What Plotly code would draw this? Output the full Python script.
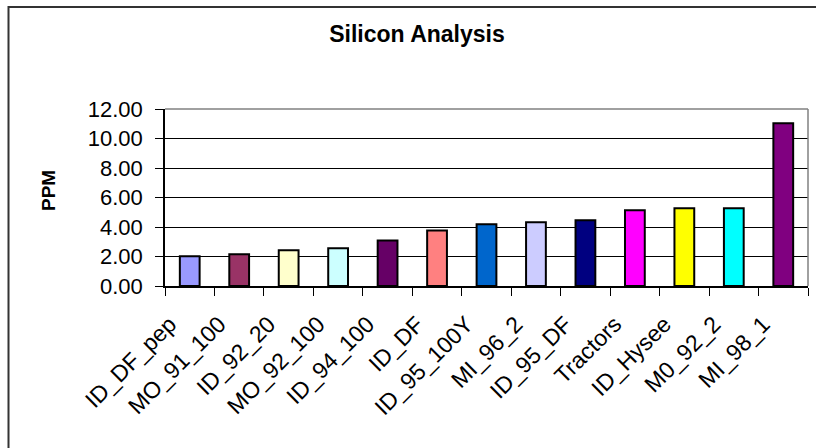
import plotly.graph_objects as go

categories = ["ID_DF_pep", "MO_91_100", "ID_92_20", "MO_92_100", "ID_94_100", "ID_DF",
              "ID_95_100Y", "MI_96_2", "ID_95_DF", "Tractors", "ID_Hysee", "M0_92_2", "MI_98_1"]
ppm_values = [2.02, 2.16, 2.42, 2.56, 3.08, 3.77, 4.18, 4.32, 4.45, 5.13, 5.27, 5.27, 11.04]
bar_colors = ["#9999FF", "#993366", "#FFFFCC", "#CCFFFF", "#660066", "#FF8080",
              "#0066CC", "#CCCCFF", "#000080", "#FF00FF", "#FFFF00", "#00FFFF", "#800080"]
y_ticks = [0, 2, 4, 6, 8, 10, 12]

FONT = "Liberation Sans, Arial, sans-serif"
W, H = 816, 448
ML, MR, MT, MB = 165, 8, 109, 162
PW, PH = W - ML - MR, H - MT - MB

def px_x(p):
    return (p - ML) / PW

def px_y(p):
    return (H - MB - p) / PH

fig = go.Figure(go.Bar(
    x=categories, y=ppm_values,
    marker=dict(color=bar_colors, line=dict(color="#000000", width=2)),
    width=0.4,
))

fig.update_layout(
    width=W, height=H,
    margin=dict(l=ML, r=MR, t=MT, b=MB, pad=0),
    paper_bgcolor="white", plot_bgcolor="white",
    showlegend=False,
    font=dict(family=FONT, color="#000000"),
    title=dict(text="<b>Silicon Analysis</b>", x=417 / W, xref="container", xanchor="center",
               y=1 - 34 / H, yref="container", yanchor="middle",
               font=dict(family=FONT, size=23, color="#000000")),
)

fig.update_xaxes(
    type="category", showgrid=False, showline=True, linecolor="#000000", linewidth=1.5,
    ticks="outside", tickson="boundaries", ticklen=8, tickcolor="#000000", tickwidth=1,
    tickangle=-45, tickfont=dict(family=FONT, size=23, color="#000000"),
    ticklabelshift=-20, ticklabelstandoff=14,
    range=[-0.5, len(categories) - 0.5], fixedrange=True,
)
fig.update_yaxes(
    range=[0, 12], tickvals=y_ticks, tickformat=".2f",
    showgrid=True, gridcolor="#000000", gridwidth=1,
    showline=True, linecolor="#000000", linewidth=1.5,
    ticks="outside", ticklen=8, tickcolor="#000000", tickwidth=1,
    tickfont=dict(family=FONT, size=22, color="#000000"),
    ticklabelstandoff=8,
    zeroline=False, fixedrange=True,
)

# plot area border (top and right, gray)
fig.add_shape(type="line", xref="paper", yref="paper", x0=0, x1=1, y0=1, y1=1,
              line=dict(color="#808080", width=1.5))
fig.add_shape(type="line", xref="paper", yref="paper", x0=1, x1=1, y0=0, y1=1,
              line=dict(color="#808080", width=1.5))
# outer chart frame
fig.add_shape(type="rect", xref="paper", yref="paper",
              x0=px_x(8.5), x1=px_x(830), y0=px_y(460), y1=px_y(7),
              line=dict(color="#333333", width=2), fillcolor="rgba(0,0,0,0)", layer="below")

fig.add_annotation(text="<b>PPM</b>", xref="paper", yref="paper",
                   x=px_x(48), y=px_y(191), textangle=-90, showarrow=False,
                   xanchor="center", yanchor="middle",
                   font=dict(family=FONT, size=19, color="#000000"))

fig.write_html("out.html", config={"displayModeBar": False},
               post_script="document.body.style.margin='0';document.body.style.padding='0';")
